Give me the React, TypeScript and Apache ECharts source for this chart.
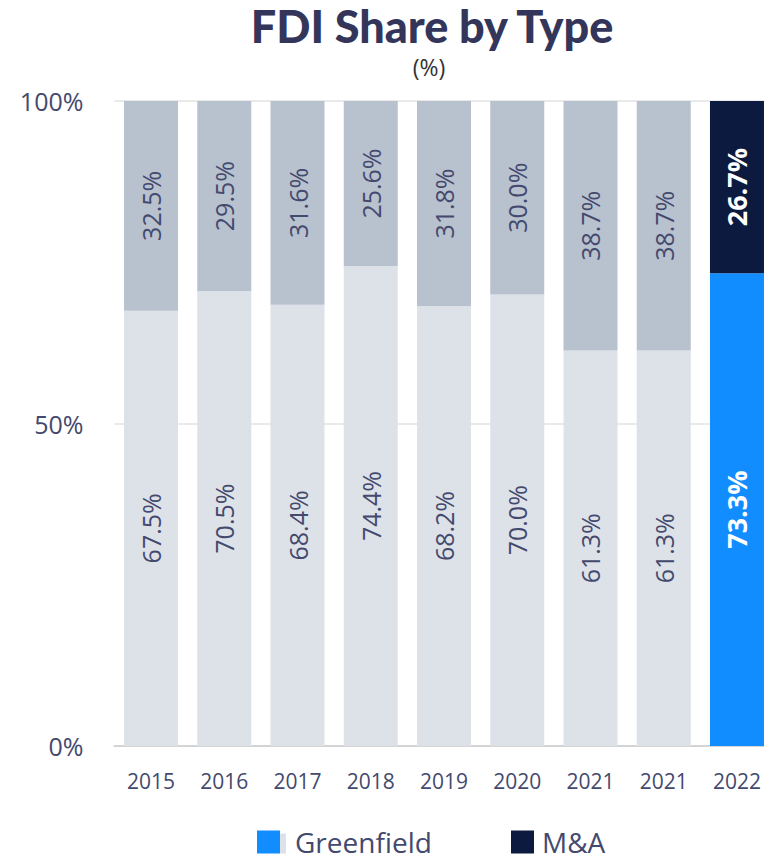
import React, { useEffect, useRef } from "react";
import * as echarts from "echarts";

const categories = ["2015", "2016", "2017", "2018", "2019", "2020", "2021", "2021", "2022"];
const greenfield = [67.5, 70.5, 68.4, 74.4, 68.2, 70.0, 61.3, 61.3, 73.3];
const mna = [32.5, 29.5, 31.6, 25.6, 31.8, 30.0, 38.7, 38.7, 26.7];
const yTicks = [0, 50, 100];
const highlightIndex = 8;

const FONT = "'Open Sans', 'Noto Sans', sans-serif";
const LABEL_COLOR = "#44496e";

export default function App() {
  const ref = useRef<HTMLDivElement>(null);
  useEffect(() => {
    document.body.style.margin = "0";
    if (!ref.current) return;
    const chart = echarts.init(ref.current, undefined, { renderer: "svg" });

    const mkData = (vals: number[], pastColor: string) =>
      vals.map((v, i) =>
        i === highlightIndex
          ? {
              value: v,
              label: { color: "#ffffff", fontWeight: "bold" as const, fontSize: 27 },
            }
          : { value: v, itemStyle: { color: pastColor } }
      );

    const labelCfg = {
      show: true,
      position: "inside" as const,
      rotate: 90,
      fontFamily: FONT,
      fontSize: 25,
      color: LABEL_COLOR,
      formatter: (p: any) => Number(p.value).toFixed(1) + "%",
    };

    const legendText = {
      fontSize: 28,
      lineHeight: 28,
      color: LABEL_COLOR,
      fontFamily: FONT,
    };

    chart.setOption({
      animation: false,
      textStyle: { fontFamily: FONT },
      grid: { left: 114.4, right: 0.4, top: 101, bottom: 115, containLabel: false },
      xAxis: {
        type: "category",
        data: categories,
        axisTick: { show: false },
        axisLine: { show: true, lineStyle: { color: "#d4d4d4", width: 2 } },
        axisLabel: { color: LABEL_COLOR, fontSize: 21, margin: 24, fontFamily: FONT },
      },
      yAxis: {
        type: "value",
        min: yTicks[0],
        max: yTicks[yTicks.length - 1],
        interval: 50,
        axisLine: { show: false },
        axisTick: { show: false },
        splitLine: { lineStyle: { color: "#e3e3e3", width: 1.5 } },
        axisLabel: {
          color: LABEL_COLOR,
          fontSize: 25,
          margin: 31,
          fontFamily: FONT,
          formatter: "{value}%",
        },
      },
      legend: [
        {
          data: ["Greenfield"],
          left: 257,
          top: 826,
          padding: [2, 5, 2, 0],
          itemWidth: 23,
          itemHeight: 23,
          icon: "rect",
          textStyle: { ...legendText, padding: [0, 0, 0, 10] },
        },
        {
          data: ["M&A"],
          left: 511,
          top: 826,
          padding: [2, 5, 2, 0],
          itemWidth: 23,
          itemHeight: 23,
          icon: "rect",
          textStyle: { ...legendText, padding: [0, 0, 0, 3] },
        },
      ],
      graphic: [
        {
          type: "text",
          x: 432,
          y: 3,
          style: {
            text: "FDI Share by Type",
            fontFamily: "Lato, sans-serif",
            fontWeight: 900,
            fontSize: 45,
            fill: "#33365a",
            textAlign: "center",
            textVerticalAlign: "top",
          },
        },
        {
          type: "text",
          x: 429,
          y: 55,
          style: {
            text: "(%)",
            fontFamily: FONT,
            fontSize: 23,
            fill: "#333333",
            textAlign: "center",
            textVerticalAlign: "top",
          },
        },
        {
          type: "rect",
          shape: { x: 280, y: 833.5, width: 6, height: 20 },
          style: { fill: "#dde2e9" },
        },
      ],
      series: [
        {
          name: "Greenfield",
          type: "bar",
          stack: "total",
          barWidth: 54,
          itemStyle: { color: "#118dff" },
          label: labelCfg,
          data: mkData(greenfield, "#dde2e9"),
        },
        {
          name: "M&A",
          type: "bar",
          stack: "total",
          barWidth: 54,
          itemStyle: { color: "#0b1a3e" },
          label: labelCfg,
          data: mkData(mna, "#b8c1ce"),
        },
      ],
    });
    return () => chart.dispose();
  }, []);
  return (
    <div style={{ width: 764, height: 861, overflow: "hidden", position: "relative" }}>
      <div ref={ref} style={{ width: 774, height: 861 }} />
    </div>
  );
}
